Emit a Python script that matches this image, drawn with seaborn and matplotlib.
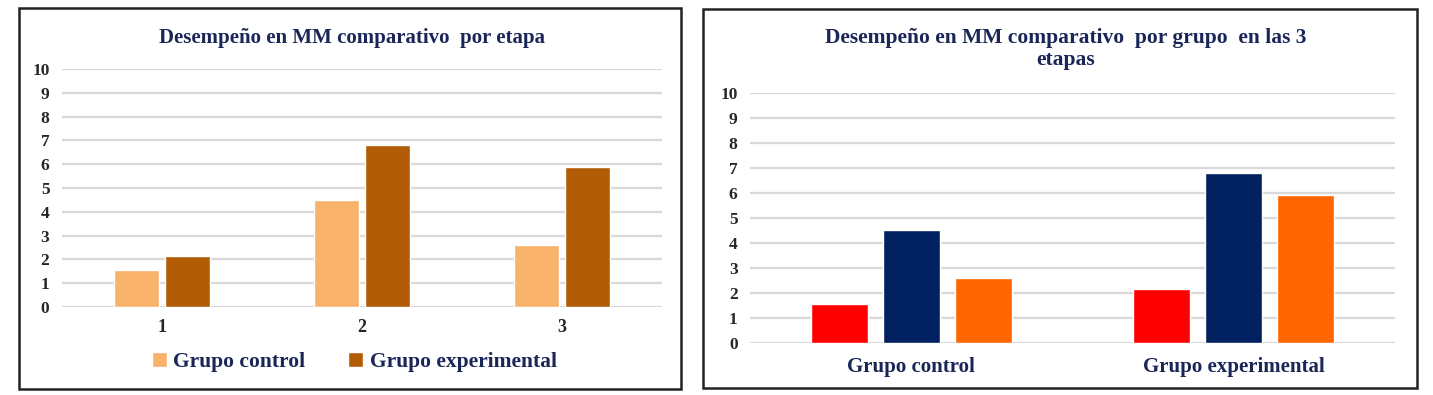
import matplotlib
matplotlib.use("Agg")
import matplotlib.pyplot as plt
import matplotlib.patches as patches
import seaborn as sns
import pandas as pd

# data
etapas = ["1", "2", "3"]
grupos = ["Grupo control", "Grupo experimental"]
control = [1.55, 4.5, 2.6]
experimental = [2.15, 6.8, 5.9]

left_colors = ["#F8B26A", "#B35C06"]
right_colors = ["#FF0000", "#002060", "#FF6600"]

title_left = "Desempeño en MM comparativo  por etapa"
title_right = "Desempeño en MM comparativo  por grupo  en las 3\netapas"

navy = "#1B2658"

sns.set_style("white")
plt.rcParams['font.family'] = ['Liberation Serif', 'DejaVu Serif']
plt.rcParams['font.weight'] = 'bold'

fig = plt.figure(figsize=(14.33, 3.95), dpi=100)

# frames around the two charts
fig.patches.append(patches.Rectangle((19 / 1433, 1 - 389 / 395), 662 / 1433, 381 / 395,
                                     transform=fig.transFigure, fill=False,
                                     edgecolor="#222222", lw=1.8))
fig.patches.append(patches.Rectangle((703 / 1433, 1 - 388 / 395), 714 / 1433, 379 / 395,
                                     transform=fig.transFigure, fill=False,
                                     edgecolor="#222222", lw=1.8))


def style_axis(ax):
    ax.set_ylim(0, 10)
    ax.set_yticks(range(0, 11))
    ax.yaxis.grid(True, color="#D9D9D9", lw=1.6)
    ax.set_axisbelow(True)
    sns.despine(ax=ax, left=True, bottom=True)
    ax.tick_params(axis="both", length=0)
    ax.tick_params(axis="y", pad=9, labelsize=12.5)
    for lab in ax.get_yticklabels():
        lab.set_fontweight("bold")
    ax.set_xlabel("")
    ax.set_ylabel("")


# left chart: by stage
ax1 = fig.add_axes([62 / 1433, 1 - 307 / 395, 600 / 1433, 238 / 395])
df1 = pd.DataFrame({
    "etapa": etapas * 2,
    "grupo": [grupos[0]] * 3 + [grupos[1]] * 3,
    "valor": control + experimental,
})
sns.barplot(data=df1, x="etapa", y="valor", hue="grupo", palette=left_colors,
            width=0.51, gap=0.12, ax=ax1, saturation=1)
style_axis(ax1)
ax1.set_xlim(-0.5, 2.5)
ax1.tick_params(axis="x", pad=9, labelsize=13)
for lab in ax1.get_xticklabels():
    lab.set_fontweight("bold")
ax1.legend(loc="center", bbox_to_anchor=(0.487, -0.231), ncol=2, frameon=False,
           prop={"weight": "bold", "size": 15.5}, handlelength=0.7, handleheight=0.7,
           handletextpad=0.3, columnspacing=2.0, labelcolor=navy)
fig.text(352 / 1433, 1 - 38 / 395, title_left, ha="center", va="center",
         fontsize=15, fontweight="bold", color=navy)

# right chart: by group
ax2 = fig.add_axes([750 / 1433, 1 - 343 / 395, 645 / 1433, 250 / 395])
df2 = pd.DataFrame({
    "grupo": [grupos[0]] * 3 + [grupos[1]] * 3,
    "etapa": etapas * 2,
    "valor": [control[0], control[1], control[2],
              experimental[0], experimental[1], experimental[2]],
})
sns.barplot(data=df2, x="grupo", y="valor", hue="etapa", palette=right_colors,
            width=0.67, gap=0.21, ax=ax2, saturation=1, legend=False)
style_axis(ax2)
ax2.set_xlim(-0.5, 1.5)
ax2.tick_params(axis="x", pad=10, labelsize=15)
for lab in ax2.get_xticklabels():
    lab.set_fontweight("bold")
    lab.set_color(navy)
fig.text(1066 / 1433, 1 - 49 / 395, title_right, ha="center", va="center",
         fontsize=15.5, fontweight="bold", color=navy, linespacing=1.15)

fig.savefig("out.png", dpi=100)
